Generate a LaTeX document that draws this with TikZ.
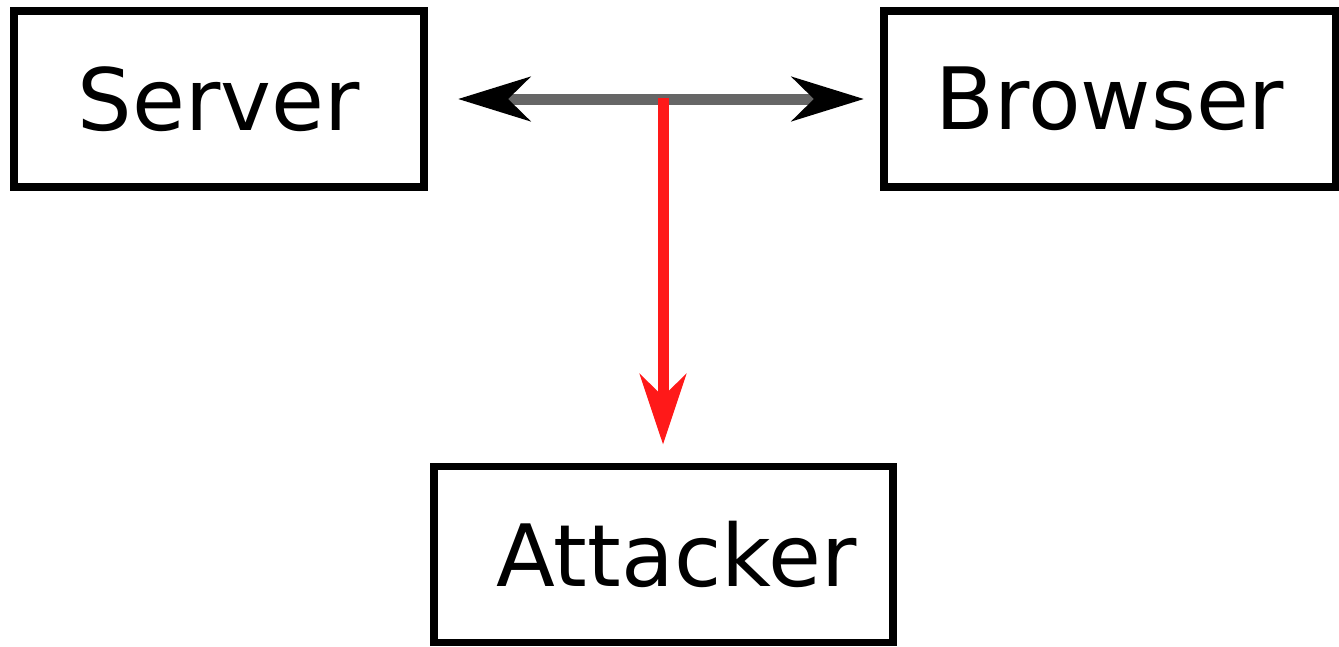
\documentclass[tikz,border=0pt]{standalone}
\usepackage{fontspec}
\setmainfont{DejaVu Sans}
\usetikzlibrary{arrows.meta}
\begin{document}
\begin{tikzpicture}[x=1pt,y=-1pt,
  box/.style={draw=black,line width=7.5pt,fill=white,inner sep=0pt,outer sep=0pt,
    font=\fontsize{86}{86}\selectfont,minimum height=176pt},
  flow/.style={line width=11pt,draw=black!60,
    arrows={Stealth[length=72pt,width=44pt,inset=22pt,fill=black,color=black]-Stealth[length=72pt,width=44pt,inset=22pt,fill=black,color=black]}},
  leak/.style={line width=11pt,draw=red!90,-{Stealth[length=70pt,width=46pt,inset=22pt]}}]
\useasboundingbox (0,0) rectangle (1339,646);
\node[box,minimum width=410pt] (server) at (219,99) {Server};
\node[box,minimum width=452pt] (browser) at (1110,99) {Browser};
\node[box,minimum width=459pt] (attacker) at (663.5,554.5) {\hspace*{26pt}Attacker};
\coordinate (split) at (663,98);
\draw[flow,shorten <=34pt,shorten >=20pt] (server.east) -- (browser.west);
\draw[leak,shorten >=22pt] (split) -- (split |- attacker.north);
\end{tikzpicture}
\end{document}
